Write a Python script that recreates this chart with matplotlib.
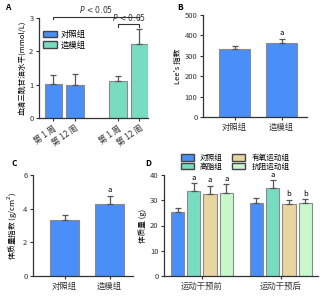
import matplotlib
matplotlib.use("Agg")
import matplotlib.pyplot as plt
from matplotlib.patches import Patch

plt.rcParams["font.family"] = ["Noto Sans CJK SC", "DejaVu Sans"]
plt.rcParams["axes.unicode_minus"] = False

# ---------- Data ----------
A_groups = ["对照组", "造模组"]
A_ticks = ["第 1 周", "第 12 周", "第 1 周", "第 12 周"]
A_vals = [1.03, 1.00, 1.12, 2.22]
A_err = [0.27, 0.33, 0.13, 0.45]

B_cats = ["对照组", "造模组"]
B_vals = [335, 365]
B_err = [13, 18]

C_cats = ["对照组", "造模组"]
C_vals = [3.35, 4.28]
C_err = [0.30, 0.50]

D_groups = ["运动干预前", "运动干预后"]
D_series = ["对照组", "高脂组", "有氧运动组", "抗阻运动组"]
D_vals = [[25.2, 29.0], [33.6, 35.0], [32.3, 28.5], [32.7, 29.0]]
D_err = [[1.6, 1.7], [3.1, 3.0], [3.5, 1.6], [3.7, 1.3]]
D_marks = [["", ""], ["a", "a"], ["a", "b"], ["a", "b"]]

BLUE = "#4A8FF7"
GREEN = "#78DCC0"
TAN = "#E8D5A0"
LGREEN = "#C8F8CC"
D_COLORS = [BLUE, GREEN, TAN, LGREEN]
EDGE = "#8A8A8A"
AXC = "#333333"

W, H = 328, 300
fig = plt.figure(figsize=(W / 100, H / 100), dpi=100)


def px_axes(left, top, right, bottom):
    return fig.add_axes([left / W, 1 - bottom / H, (right - left) / W, (bottom - top) / H])


def style(ax):
    for s in ("top", "right"):
        ax.spines[s].set_visible(False)
    for s in ("left", "bottom"):
        ax.spines[s].set_color(AXC)
        ax.spines[s].set_linewidth(0.9)
    ax.tick_params(axis="both", labelsize=5.5, length=2.5, width=0.8, pad=1.5, colors=AXC)


ekw = dict(ecolor="#555555", elinewidth=0.9, capsize=2.5, capthick=0.9)

# ---------- A ----------
ax = px_axes(39, 18, 148, 118)
style(ax)
xa = [0, 1, 3, 4]
ca = [BLUE, BLUE, GREEN, GREEN]
ax.bar(xa, A_vals, width=0.8, color=ca, edgecolor=EDGE, linewidth=0.8,
       yerr=[[0] * 4, A_err], error_kw=ekw)
ax.set_xlim(-0.67, 4.4)
ax.set_ylim(0, 3)
ax.set_yticks([0, 1, 2, 3])
ax.set_xticks(xa)
ax.set_xticklabels(A_ticks, rotation=35, ha="right", rotation_mode="anchor", fontsize=6)
ax.set_ylabel("血清三酰甘油水平(mmol/L)", fontsize=5.5, labelpad=2)
# significance brackets
ax.plot([0, 0, 4, 4], [2.98, 3.04, 3.04, 2.98], color=AXC, lw=0.8, clip_on=False)
ax.text(2.0, 3.08, "$P$ < 0.05", fontsize=5.5, ha="center", va="bottom", color=AXC,
        family="DejaVu Sans")
ax.plot([3, 3, 4, 4], [2.74, 2.82, 2.82, 2.74], color=AXC, lw=0.8, clip_on=False)
ax.text(3.5, 2.84, "$P$ < 0.05", fontsize=5.5, ha="center", va="bottom", color=AXC,
        family="DejaVu Sans")
ax.legend(handles=[Patch(facecolor=BLUE, edgecolor="#444444", label=A_groups[0]),
                   Patch(facecolor=GREEN, edgecolor="#444444", label=A_groups[1])],
          loc="upper left", bbox_to_anchor=(0.0, 0.92), frameon=False, fontsize=6,
          handlelength=1.7, handleheight=0.8, handletextpad=0.4, labelspacing=0.15,
          borderaxespad=0.1)
fig.text(5 / W, 1 - 8 / H, "A", fontsize=6, fontweight="bold", va="center")

# ---------- B ----------
ax = px_axes(203, 15, 307, 117)
style(ax)
ax.bar([0, 1], B_vals, width=0.66, color=BLUE, edgecolor=EDGE, linewidth=0.8,
       yerr=[[0, 0], B_err], error_kw=ekw)
ax.set_xlim(-0.67, 1.54)
ax.set_ylim(0, 500)
ax.set_yticks(range(0, 501, 100))
ax.set_xticks([0, 1])
ax.set_xticklabels(B_cats, fontsize=6)
ax.set_ylabel("Lee's 指数", fontsize=5.5, labelpad=2)
ax.text(1, B_vals[1] + B_err[1] + 8, "a", fontsize=5.5, ha="center", va="bottom")
fig.text(177 / W, 1 - 8 / H, "B", fontsize=6, fontweight="bold", va="center")

# ---------- C ----------
ax = px_axes(33, 175, 133, 276)
style(ax)
ax.bar([0, 1], C_vals, width=0.64, color=BLUE, edgecolor=EDGE, linewidth=0.8,
       yerr=[[0, 0], C_err], error_kw=ekw)
ax.set_xlim(-0.7, 1.52)
ax.set_ylim(0, 6)
ax.set_yticks([0, 2, 4, 6])
ax.set_xticks([0, 1])
ax.set_xticklabels(C_cats, fontsize=6)
ax.set_ylabel("体质量指数 (g/cm$^2$)", fontsize=5.5, labelpad=2)
ax.text(1, C_vals[1] + C_err[1] + 0.08, "a", fontsize=5.5, ha="center", va="bottom")
fig.text(12 / W, 1 - 164 / H, "C", fontsize=6, fontweight="bold", va="center")

# ---------- D ----------
ax = px_axes(164, 175, 318, 276)
style(ax)
step = 0.206
for i, (vals, errs) in enumerate(zip(D_vals, D_err)):
    xs = [g + (i - 1.5) * step for g in range(len(D_groups))]
    ax.bar(xs, vals, width=0.17, color=D_COLORS[i], edgecolor=EDGE, linewidth=0.8,
           yerr=[[0, 0], errs], error_kw=ekw)
    for x, v, e, m in zip(xs, vals, errs, D_marks[i]):
        if m:
            ax.text(x, v + e + 0.6, m, fontsize=5.5, ha="center", va="bottom")
ax.set_xlim(-0.48, 1.47)
ax.set_ylim(0, 40)
ax.set_yticks(range(0, 41, 10))
ax.set_xticks([0, 1])
ax.set_xticklabels(D_groups, fontsize=6)
ax.set_ylabel("体质量 (g)", fontsize=5.5, labelpad=2)
handles = [Patch(facecolor=c, edgecolor="#444444", label=s)
           for c, s in zip(D_COLORS, D_series)]
ax.legend(handles=handles, ncol=2, loc="lower left", bbox_to_anchor=(0.08, 1.0),
          frameon=False, fontsize=5.5, handlelength=1.7, handleheight=0.9,
          handletextpad=0.8, labelspacing=0.1, columnspacing=1.3, borderaxespad=0.15)
fig.text(145 / W, 1 - 164 / H, "D", fontsize=6, fontweight="bold", va="center")

fig.savefig("out.png", dpi=100)
